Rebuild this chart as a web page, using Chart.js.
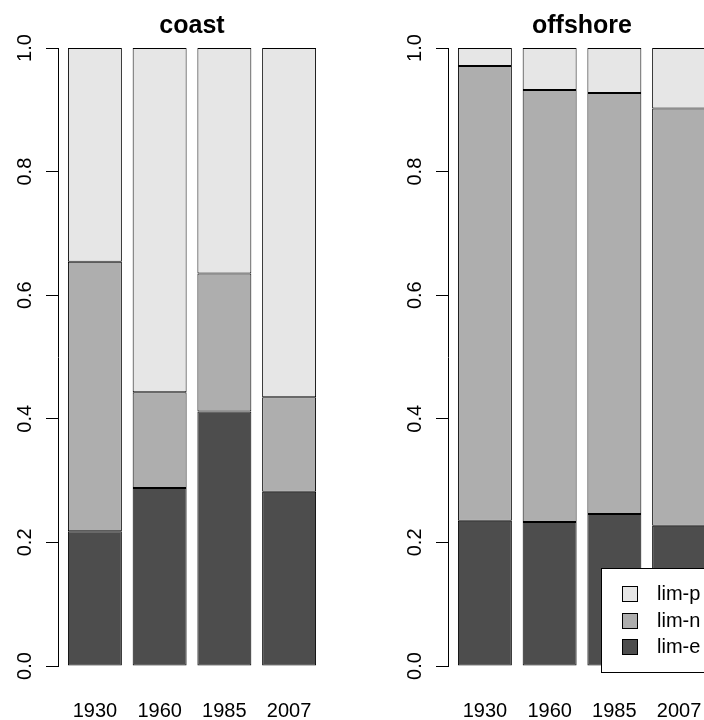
<!DOCTYPE html>
<html>
<head>
<meta charset="utf-8">
<script src="https://cdn.jsdelivr.net/npm/chart.js@4.4.1/dist/chart.umd.min.js"></script>
<style>
  html, body { margin: 0; padding: 0; background: #fff; overflow: hidden; width: 704px; height: 720px; }
  canvas { position: absolute; top: 0; }
  #coast { left: 0; }
  #offshore { left: 352px; }
</style>
</head>
<body>
<canvas id="coast" width="352" height="720"></canvas>
<canvas id="offshore" width="364" height="720"></canvas>
<script>
// Categories and series (proportions, stacked bottom to top: lim-e, lim-n, lim-p)
const years = ['1930', '1960', '1985', '2007'];
const groupNames = ['lim-e', 'lim-n', 'lim-p'];

const coastLimE = [0.218, 0.288, 0.412, 0.282];
const coastLimN = [0.436, 0.155, 0.223, 0.153];
const coastLimP = [0.346, 0.557, 0.365, 0.565];

const offshoreLimE = [0.235, 0.233, 0.246, 0.227];
const offshoreLimN = [0.736, 0.699, 0.681, 0.675];
const offshoreLimP = [0.029, 0.068, 0.073, 0.098];

const yTickValues = [0, 0.2, 0.4, 0.6, 0.8, 1.0];

const groupColors = ['#4D4D4D', '#AEAEAE', '#E6E6E6'];
const FONT = '"Liberation Sans", Arial, sans-serif';

// barplot-style spacing: bar width 1, gap 0.2, x range padded by 4%
const SPACE = 0.2, WIDTH = 1;
const barMid = i => SPACE + WIDTH / 2 + i * (SPACE + WIDTH);
const xLo = SPACE, xHi = years.length * (SPACE + WIDTH);
const xPad = (xHi - xLo) * 0.04;

// Framed legend inside the plot, lower right, top entry = top segment
const insetLegend = {
  id: 'insetLegend',
  afterDatasetsDraw(chart, args, opts) {
    if (!opts.show) return;
    const { ctx, chartArea } = chart;
    const items = chart.data.datasets.slice().reverse();
    const w = 115, h = 105;
    const right = Math.round(chartArea.right);
    const bottom = Math.round(chartArea.bottom) + 7;
    const left = right - w, top = bottom - h;
    ctx.save();
    ctx.fillStyle = '#fff';
    ctx.fillRect(left, top, w, h);
    ctx.strokeStyle = '#000';
    ctx.lineWidth = 1;
    ctx.strokeRect(left + 0.5, top + 0.5, w - 1, h - 1);
    ctx.font = '20px ' + FONT;
    ctx.textBaseline = 'middle';
    ctx.textAlign = 'left';
    items.forEach((ds, i) => {
      const cy = Math.round(top + 26 + i * 26.5);
      ctx.fillStyle = ds.backgroundColor;
      ctx.fillRect(left + 21, cy - 8, 16, 16);
      ctx.strokeStyle = '#000';
      ctx.strokeRect(left + 21.5, cy - 7.5, 15, 15);
      ctx.fillStyle = '#000';
      ctx.fillText(ds.label, left + 56, cy);
    });
    ctx.restore();
  }
};

function makePanel(canvasId, title, series, axisWidth, rightPad, showLegend) {
  const datasets = series.map((vals, k) => ({
    label: groupNames[k],
    data: vals.map((v, i) => ({ x: barMid(i), y: v })),
    backgroundColor: groupColors[k],
    borderColor: '#000',
    borderWidth: 1,
    borderSkipped: false,
    inflateAmount: 0,
    categoryPercentage: 1,
    barPercentage: WIDTH / (WIDTH + SPACE)
  }));

  return new Chart(document.getElementById(canvasId), {
    type: 'bar',
    data: { datasets },
    plugins: [insetLegend],
    options: {
      responsive: false,
      animation: false,
      devicePixelRatio: 1,
      layout: { padding: { left: 0, right: rightPad, top: 0, bottom: 0 } },
      plugins: {
        legend: { display: false },
        tooltip: { enabled: false },
        title: {
          display: true,
          text: title,
          fullSize: false,
          color: '#000',
          font: { family: FONT, size: 25, weight: 'bold' },
          padding: { top: 11, bottom: 7 }
        },
        insetLegend: { show: showLegend }
      },
      scales: {
        x: {
          type: 'linear',
          stacked: true,
          offset: false,
          min: xLo - xPad,
          max: xHi + xPad,
          border: { display: false },
          grid: { display: false, drawTicks: false, offset: false },
          ticks: {
            color: '#000',
            font: { family: FONT, size: 20 },
            padding: 33,
            autoSkip: false,
            maxRotation: 0,
            callback: (v, i) => years[i]
          },
          afterBuildTicks: s => { s.ticks = years.map((_, i) => ({ value: barMid(i) })); },
          afterFit: s => { s.height = 54; s.paddingLeft = 0; s.paddingRight = 0; }
        },
        y: {
          stacked: true,
          min: 0,
          max: 1,
          border: { display: true, color: '#000', width: 1 },
          grid: { display: true, drawOnChartArea: false, drawTicks: true, tickLength: 12, color: '#000', lineWidth: 1 },
          ticks: {
            color: '#000',
            font: { family: FONT, size: 20 },
            minRotation: 90,
            maxRotation: 90,
            crossAlign: 'center',
            padding: 7,
            autoSkip: false,
            callback: v => Number(v).toFixed(1)
          },
          afterBuildTicks: s => { s.ticks = yTickValues.map(v => ({ value: v })); },
          afterFit: s => { s.width = axisWidth; s.paddingTop = 0; s.paddingBottom = 0; }
        }
      }
    }
  });
}

makePanel('coast', 'coast', [coastLimE, coastLimN, coastLimP], 58, 26, false);
makePanel('offshore', 'offshore', [offshoreLimE, offshoreLimN, offshoreLimP], 96, 0, true);
</script>
</body>
</html>
